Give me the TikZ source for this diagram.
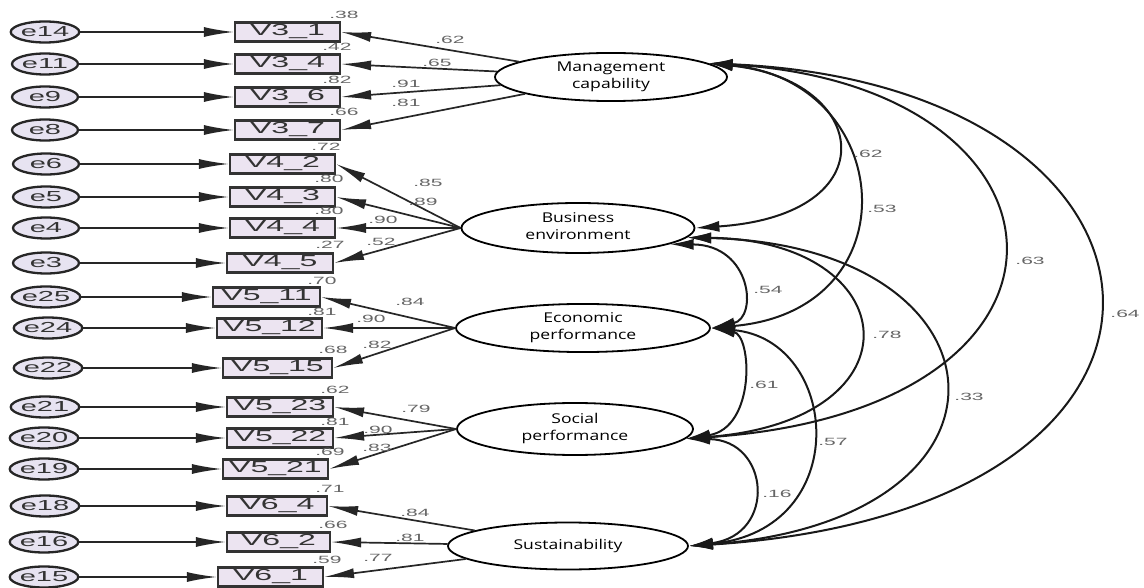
\documentclass[tikz,border=0pt]{standalone}
\usepackage{graphicx}
\usepackage{fontspec}
\setmainfont{Liberation Sans}
\newfontfamily\latfont{Open Sans}
\usetikzlibrary{arrows.meta,shapes.geometric}
\definecolor{errfill}{HTML}{E7E3F1}
\definecolor{boxfill}{HTML}{ECE4F1}
\newcommand{\sx}[1]{\scalebox{2.0}[1]{#1}}
\newcommand{\sn}[1]{\scalebox{2.0}[1]{#1}}
\newcommand{\latxt}[1]{\scalebox{1.3}[1]{\begin{tabular}{@{}c@{}}#1\end{tabular}}}
\begin{document}
\begin{tikzpicture}[x=1pt,y=-1pt,
  err/.style={ellipse, draw=black!85, line width=2.3pt, fill=errfill, minimum width=66pt, minimum height=21pt, inner sep=0pt, font=\fontsize{14.5}{14}\selectfont, text=black!80},
  obs/.style={rectangle, draw=black!80, line width=2.2pt, fill=boxfill, minimum height=19pt, inner sep=0pt, font=\fontsize{16}{16}\selectfont, text=black!80},
  lat/.style={ellipse, draw=black, line width=1.8pt, fill=white, inner sep=0pt, font=\latfont\fontsize{13.5}{17}\selectfont, text=black},
  num/.style={font=\fontsize{10.5}{10}\selectfont, text=black!60, inner sep=0pt},
  arr/.style={line width=1.7pt, draw=black!85, -{Latex[length=30pt,width=10pt]}},
  corr/.style={line width=2pt, draw=black!90, {Latex[length=24pt,width=11pt]}-{Latex[length=24pt,width=11pt]}}]
\useasboundingbox[fill=white] (0,0) rectangle (1144,588);

% observed boxes
\node[obs, minimum width=105pt] (V31) at (287.5,32) {\sx{V3\_1}};
\node[obs, minimum width=105pt] (V34) at (287.5,64) {\sx{V3\_4}};
\node[obs, minimum width=105pt] (V36) at (287.5,97) {\sx{V3\_6}};
\node[obs, minimum width=105pt] (V37) at (287.5,130) {\sx{V3\_7}};
\node[obs, minimum width=105pt] (V42) at (282.5,164) {\sx{V4\_2}};
\node[obs, minimum width=105pt] (V43) at (282.5,197) {\sx{V4\_3}};
\node[obs, minimum width=105pt] (V44) at (282.5,228) {\sx{V4\_4}};
\node[obs, minimum width=106pt] (V45) at (280,263) {\sx{V4\_5}};
\node[obs, minimum width=107pt] (V511) at (266.5,297) {\sx{V5\_11}};
\node[obs, minimum width=105pt] (V512) at (269.5,328) {\sx{V5\_12}};
\node[obs, minimum width=109pt] (V515) at (277.5,368) {\sx{V5\_15}};
\node[obs, minimum width=106pt] (V523) at (280,407) {\sx{V5\_23}};
\node[obs, minimum width=106pt] (V522) at (280,438) {\sx{V5\_22}};
\node[obs, minimum width=105pt] (V521) at (275.5,469) {\sx{V5\_21}};
\node[obs, minimum width=100pt] (V64) at (277,506) {\sx{V6\_4}};
\node[obs, minimum width=103pt] (V62) at (278.5,542) {\sx{V6\_2}};
\node[obs, minimum width=105pt] (V61) at (270.5,577) {\sx{V6\_1}};

% error terms
\node[err] (e14) at (45,32) {\sn{e14}};
\node[err] (e11) at (45,64) {\sn{e11}};
\node[err] (e9) at (45,97) {\sn{e9}};
\node[err] (e8) at (45,130) {\sn{e8}};
\node[err] (e6) at (46,164) {\sn{e6}};
\node[err] (e5) at (46,197) {\sn{e5}};
\node[err] (e4) at (46,228) {\sn{e4}};
\node[err] (e3) at (46,263) {\sn{e3}};
\node[err] (e25) at (46,297) {\sn{e25}};
\node[err] (e24) at (48,328) {\sn{e24}};
\node[err] (e22) at (48,368) {\sn{e22}};
\node[err] (e21) at (45,407) {\sn{e21}};
\node[err] (e20) at (44,438) {\sn{e20}};
\node[err] (e19) at (44,469) {\sn{e19}};
\node[err] (e18) at (45,506) {\sn{e18}};
\node[err] (e16) at (44,542) {\sn{e16}};
\node[err] (e15) at (44,577) {\sn{e15}};

\foreach \e/\v in {e14/V31,e11/V34,e9/V36,e8/V37,e6/V42,e5/V43,e4/V44,e3/V45,e25/V511,e24/V512,e22/V515,e21/V523,e20/V522,e19/V521,e18/V64,e16/V62,e15/V61}
  \draw[arr] (\e.east) -- (\v.west);

% latent variables
\node[lat, minimum width=232pt, minimum height=47pt] (MC) at (611,77) {\latxt{Management\\capability}};
\node[lat, minimum width=233pt, minimum height=50pt] (BE) at (578,228) {\latxt{Business\\environment}};
\node[lat, minimum width=254pt, minimum height=45pt] (EP) at (583,328) {\latxt{Economic\\performance}};
\node[lat, minimum width=236pt, minimum height=52pt] (SP) at (575,429) {\latxt{Social\\performance}};
\node[lat, minimum width=240pt, minimum height=47pt] (SU) at (568,546) {\latxt{Sustainability}};

% loadings
\foreach \v in {V31,V34,V36,V37} \draw[arr] (MC) -- (\v.east);
\foreach \v in {V42,V43,V44,V45} \draw[arr] (BE.west) -- (\v.east);
\foreach \v in {V511,V512,V515} \draw[arr] (EP.west) -- (\v.east);
\foreach \v in {V523,V522,V521} \draw[arr] (SP.west) -- (\v.east);
\foreach \v in {V64,V62,V61} \draw[arr] (SU) -- (\v.east);

% correlations
\draw[corr] (MC.8) .. controls (870,80) and (890,215) .. (BE.east);
\draw[corr] (MC.8) .. controls (895,80) and (915,310) .. (EP.east);
\draw[corr] (MC.8) .. controls (1090,85) and (1115,410) .. (SP.-5);
\draw[corr] (MC.8) .. controls (1210,85) and (1250,510) .. (SU.east);
\draw[corr] (BE.-10) .. controls (752,245) and (758,318) .. (EP.east);
\draw[corr] (BE.-5) .. controls (905,240) and (925,420) .. (SP.-5);
\draw[corr] (BE.-5) .. controls (1015,245) and (1040,520) .. (SU.east);
\draw[corr] (EP.east) .. controls (752,335) and (756,428) .. (SP.-5);
\draw[corr] (EP.east) .. controls (840,340) and (855,530) .. (SU.east);
\draw[corr] (SP.-5) .. controls (770,440) and (777,535) .. (SU.east);

% squared multiple correlations
\node[num] (r1) at (344,15) {\sn{.38}};
\node[num] (r2) at (337,47) {\sn{.42}};
\node[num] (r3) at (337,80) {\sn{.82}};
\node[num] (r4) at (344,112) {\sn{.66}};
\node[num] (r5) at (326,147) {\sn{.72}};
\node[num] (r6) at (329,179) {\sn{.80}};
\node[num] (r7) at (329,211) {\sn{.80}};
\node[num] (r8) at (330,245) {\sn{.27}};
\node[num] (r9) at (322,281) {\sn{.70}};
\node[num] (r10) at (322,312) {\sn{.81}};
\node[num] (r11) at (333,350) {\sn{.68}};
\node[num] (r12) at (335,390) {\sn{.62}};
\node[num] (r13) at (335,422) {\sn{.81}};
\node[num] (r14) at (330,452) {\sn{.69}};
\node[num] (r15) at (330,489) {\sn{.71}};
\node[num] (r16) at (333,525) {\sn{.66}};
\node[num] (r17) at (327,560) {\sn{.59}};

% loading labels
\node[num] (l1) at (450,40) {\sn{.62}};
\node[num] (l2) at (437,63) {\sn{.65}};
\node[num] (l3) at (406,84) {\sn{.91}};
\node[num] (l4) at (406,103) {\sn{.81}};
\node[num] (l5) at (428,183) {\sn{.85}};
\node[num] (l6) at (423,202) {\sn{.89}};
\node[num] (l7) at (383,220) {\sn{.90}};
\node[num] (l8) at (381,242) {\sn{.52}};
\node[num] (l9) at (410,302) {\sn{.84}};
\node[num] (l10) at (371,319) {\sn{.90}};
\node[num] (l11) at (377,345) {\sn{.82}};
\node[num] (l12) at (416,409) {\sn{.79}};
\node[num] (l13) at (378,430) {\sn{.90}};
\node[num] (l14) at (377,448) {\sn{.83}};
\node[num] (l15) at (415,513) {\sn{.84}};
\node[num] (l16) at (410,538) {\sn{.81}};
\node[num] (l17) at (378,558) {\sn{.77}};

% correlation labels
\node[num] (c1) at (868,154) {\sn{.62}};
\node[num] (c2) at (882,209) {\sn{.53}};
\node[num] (c3) at (1030,261) {\sn{.63}};
\node[num] (c4) at (1125,314) {\sn{.64}};
\node[num] (c5) at (768,290) {\sn{.54}};
\node[num] (c6) at (887,335) {\sn{.78}};
\node[num] (c7) at (969,397) {\sn{.33}};
\node[num] (c8) at (764,385) {\sn{.61}};
\node[num] (c9) at (833,442) {\sn{.57}};
\node[num] (c10) at (777,494) {\sn{.16}};
\end{tikzpicture}
\end{document}
